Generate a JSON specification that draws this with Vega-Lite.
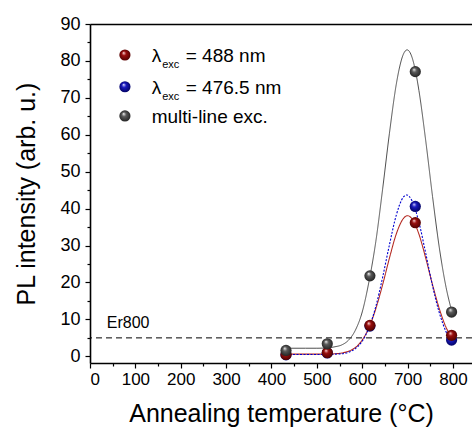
{
  "$schema": "https://vega.github.io/schema/vega-lite/v6.json",
  "width": 382,
  "height": 339,
  "autosize": "none",
  "padding": {"left": 90, "top": 24, "right": 0, "bottom": 68},
  "background": "white",
  "config": {
    "font": "Liberation Sans",
    "view": {"stroke": null},
    "text": {"fill": "#000", "color": "#000"},
    "axis": {"grid": false, "domainColor": "#000", "tickColor": "#000", "labelColor": "#000", "titleColor": "#000", "domainWidth": 1.6, "tickWidth": 1.2, "labelFont": "Liberation Sans", "titleFont": "Liberation Sans", "titleFontWeight": "normal"}
  },
  "datasets": {
    "one": [{}],
    "pts": [
      {"temp": 432, "pl": 0.4, "series": "476.5"},
      {"temp": 523, "pl": 0.9, "series": "476.5"},
      {"temp": 617, "pl": 8.2, "series": "476.5"},
      {"temp": 717, "pl": 40.6, "series": "476.5"},
      {"temp": 797, "pl": 4.4, "series": "476.5"},
      {"temp": 432, "pl": 0.5, "series": "488"},
      {"temp": 523, "pl": 1.0, "series": "488"},
      {"temp": 617, "pl": 8.4, "series": "488"},
      {"temp": 717, "pl": 36.2, "series": "488"},
      {"temp": 797, "pl": 5.7, "series": "488"},
      {"temp": 432, "pl": 1.6, "series": "multi"},
      {"temp": 523, "pl": 3.4, "series": "multi"},
      {"temp": 617, "pl": 21.8, "series": "multi"},
      {"temp": 717, "pl": 77.1, "series": "multi"},
      {"temp": 797, "pl": 12.0, "series": "multi"}
    ],
    "curves": [
      {"temp": 432, "pl": 2.2, "series": "multi"},
      {"temp": 475, "pl": 2.2, "series": "multi"},
      {"temp": 500, "pl": 2.2, "series": "multi"},
      {"temp": 523, "pl": 2.3, "series": "multi"},
      {"temp": 540, "pl": 2.6, "series": "multi"},
      {"temp": 555, "pl": 3.1, "series": "multi"},
      {"temp": 570, "pl": 4.4, "series": "multi"},
      {"temp": 585, "pl": 7.1, "series": "multi"},
      {"temp": 600, "pl": 12.0, "series": "multi"},
      {"temp": 615, "pl": 20.3, "series": "multi"},
      {"temp": 630, "pl": 31.1, "series": "multi"},
      {"temp": 645, "pl": 45.3, "series": "multi"},
      {"temp": 660, "pl": 60.4, "series": "multi"},
      {"temp": 675, "pl": 73.6, "series": "multi"},
      {"temp": 682, "pl": 78.1, "series": "multi"},
      {"temp": 690, "pl": 81.6, "series": "multi"},
      {"temp": 699, "pl": 83.0, "series": "multi"},
      {"temp": 710, "pl": 80.9, "series": "multi"},
      {"temp": 718, "pl": 76.9, "series": "multi"},
      {"temp": 725, "pl": 72.0, "series": "multi"},
      {"temp": 740, "pl": 58.4, "series": "multi"},
      {"temp": 755, "pl": 43.3, "series": "multi"},
      {"temp": 770, "pl": 29.4, "series": "multi"},
      {"temp": 785, "pl": 18.6, "series": "multi"},
      {"temp": 797, "pl": 12.4, "series": "multi"},
      {"temp": 432, "pl": 0.6, "series": "488"},
      {"temp": 475, "pl": 0.6, "series": "488"},
      {"temp": 523, "pl": 0.6, "series": "488"},
      {"temp": 540, "pl": 0.7, "series": "488"},
      {"temp": 555, "pl": 0.9, "series": "488"},
      {"temp": 570, "pl": 1.4, "series": "488"},
      {"temp": 585, "pl": 2.4, "series": "488"},
      {"temp": 600, "pl": 4.4, "series": "488"},
      {"temp": 615, "pl": 7.8, "series": "488"},
      {"temp": 630, "pl": 12.9, "series": "488"},
      {"temp": 645, "pl": 19.4, "series": "488"},
      {"temp": 660, "pl": 26.6, "series": "488"},
      {"temp": 675, "pl": 33.1, "series": "488"},
      {"temp": 690, "pl": 37.2, "series": "488"},
      {"temp": 700, "pl": 38.1, "series": "488"},
      {"temp": 710, "pl": 37.2, "series": "488"},
      {"temp": 725, "pl": 33.1, "series": "488"},
      {"temp": 740, "pl": 26.6, "series": "488"},
      {"temp": 755, "pl": 19.4, "series": "488"},
      {"temp": 770, "pl": 12.9, "series": "488"},
      {"temp": 785, "pl": 7.8, "series": "488"},
      {"temp": 797, "pl": 5.3, "series": "488"},
      {"temp": 432, "pl": 0.5, "series": "476.5"},
      {"temp": 475, "pl": 0.5, "series": "476.5"},
      {"temp": 523, "pl": 0.5, "series": "476.5"},
      {"temp": 540, "pl": 0.6, "series": "476.5"},
      {"temp": 555, "pl": 0.7, "series": "476.5"},
      {"temp": 570, "pl": 1.1, "series": "476.5"},
      {"temp": 585, "pl": 2.1, "series": "476.5"},
      {"temp": 600, "pl": 4.1, "series": "476.5"},
      {"temp": 615, "pl": 7.8, "series": "476.5"},
      {"temp": 630, "pl": 13.5, "series": "476.5"},
      {"temp": 645, "pl": 21.4, "series": "476.5"},
      {"temp": 660, "pl": 30.2, "series": "476.5"},
      {"temp": 675, "pl": 38.2, "series": "476.5"},
      {"temp": 690, "pl": 43.0, "series": "476.5"},
      {"temp": 698, "pl": 43.7, "series": "476.5"},
      {"temp": 710, "pl": 42.1, "series": "476.5"},
      {"temp": 725, "pl": 36.3, "series": "476.5"},
      {"temp": 740, "pl": 27.9, "series": "476.5"},
      {"temp": 755, "pl": 19.1, "series": "476.5"},
      {"temp": 770, "pl": 11.8, "series": "476.5"},
      {"temp": 785, "pl": 6.6, "series": "476.5"},
      {"temp": 797, "pl": 3.9, "series": "476.5"}
    ],
    "er": [{"pl": 5.0, "label": "Er800", "temp": 37, "ly": 7.6}]
  },
  "layer": [
    {
      "data": {"name": "er"},
      "mark": {"type": "rule", "color": "#000", "strokeWidth": 1, "strokeDash": [6, 4]},
      "encoding": {
        "y": {"field": "pl", "type": "quantitative", "scale": {"domain": [-1.8, 90], "nice": false, "zero": false},
          "axis": {"orient": "left", "values": [0,10,20,30,40,50,60,70,80,90], "tickSize": 5, "labelFontSize": 18, "labelPadding": 5, "title": "PL intensity (arb. u.)", "titleFontSize": 25, "titlePadding": 20}}
      }
    },
    {
      "data": {"name": "er"},
      "mark": {"type": "text", "align": "left", "baseline": "alphabetic", "fontSize": 16, "fill": "#000"},
      "encoding": {
        "x": {"field": "temp", "type": "quantitative", "scale": {"domain": [0, 842], "nice": false, "zero": false},
          "axis": {"orient": "bottom", "values": [0,100,200,300,400,500,600,700,800], "tickSize": 5, "labelFontSize": 17, "labelPadding": 3, "title": "Annealing temperature (°C)", "titleFontSize": 25, "titlePadding": 14}},
        "y": {"field": "ly", "type": "quantitative", "scale": {"domain": [-1.8, 90], "nice": false, "zero": false},
          "axis": {"orient": "left", "values": [5,15,25,35,45,55,65,75,85], "tickSize": 3, "labels": false, "domain": false, "title": null}},
        "text": {"field": "label"}
      }
    },
    {
      "data": {"name": "curves"},
      "mark": {"type": "line", "interpolate": "monotone"},
      "encoding": {
        "x": {"field": "temp", "type": "quantitative", "scale": {"domain": [0, 842], "nice": false, "zero": false},
          "axis": {"orient": "bottom", "values": [50,150,250,350,450,550,650,750], "tickSize": 3, "labels": false, "domain": false, "title": null}},
        "y": {"field": "pl", "type": "quantitative", "scale": {"domain": [-1.8, 90], "nice": false, "zero": false}, "axis": null},
        "color": {"field": "series", "type": "nominal", "scale": {"domain": ["multi", "488", "476.5"], "range": ["#4d4d4d", "#b3261e", "#0000d0"]}, "legend": null},
        "strokeDash": {"field": "series", "type": "nominal", "scale": {"domain": ["multi", "488", "476.5"], "range": [[1, 0], [1, 0], [2, 1.5]]}, "legend": null},
        "strokeWidth": {"field": "series", "type": "nominal", "scale": {"domain": ["multi", "488", "476.5"], "range": [1, 1.1, 2]}, "legend": null},
        "order": {"field": "temp", "type": "quantitative"}
      }
    },
    {
      "data": {"name": "pts"},
      "transform": [{"filter": "datum.series === '476.5'"}],
      "mark": {"type": "point", "filled": true, "size": 125, "opacity": 1, "fill": {"gradient": "radial", "x1": 0.38, "y1": 0.3, "r1": 0, "x2": 0.5, "y2": 0.5, "r2": 0.55, "stops": [{"offset": 0, "color": "#e0e0ff"}, {"offset": 0.35, "color": "#1a1ac0"}, {"offset": 1, "color": "#00005a"}]}},
      "encoding": {
        "x": {"field": "temp", "type": "quantitative", "scale": {"domain": [0, 842], "nice": false, "zero": false},
          "axis": {"orient": "top", "ticks": false, "labels": false, "domain": true, "title": null}},
        "y": {"field": "pl", "type": "quantitative", "scale": {"domain": [-1.8, 90], "nice": false, "zero": false}, "axis": null}
      }
    },
    {
      "data": {"name": "pts"},
      "transform": [{"filter": "datum.series === '488'"}],
      "mark": {"type": "point", "filled": true, "size": 125, "opacity": 1, "fill": {"gradient": "radial", "x1": 0.38, "y1": 0.3, "r1": 0, "x2": 0.5, "y2": 0.5, "r2": 0.55, "stops": [{"offset": 0, "color": "#ffe0e0"}, {"offset": 0.35, "color": "#9a0e0e"}, {"offset": 1, "color": "#4a0000"}]}},
      "encoding": {
        "x": {"field": "temp", "type": "quantitative", "scale": {"domain": [0, 842], "nice": false, "zero": false}, "axis": null},
        "y": {"field": "pl", "type": "quantitative", "scale": {"domain": [-1.8, 90], "nice": false, "zero": false}, "axis": null}
      }
    },
    {
      "data": {"name": "pts"},
      "transform": [{"filter": "datum.series === 'multi'"}],
      "mark": {"type": "point", "filled": true, "size": 125, "opacity": 1, "fill": {"gradient": "radial", "x1": 0.38, "y1": 0.3, "r1": 0, "x2": 0.5, "y2": 0.5, "r2": 0.55, "stops": [{"offset": 0, "color": "#f4f4f4"}, {"offset": 0.35, "color": "#5a5a5a"}, {"offset": 1, "color": "#1e1e1e"}]}},
      "encoding": {
        "x": {"field": "temp", "type": "quantitative", "scale": {"domain": [0, 842], "nice": false, "zero": false}, "axis": null},
        "y": {"field": "pl", "type": "quantitative", "scale": {"domain": [-1.8, 90], "nice": false, "zero": false}, "axis": null}
      }
    },
    {
      "data": {"name": "one"},
      "mark": {"type": "point", "filled": true, "size": 125, "opacity": 1, "fill": {"gradient": "radial", "x1": 0.38, "y1": 0.3, "r1": 0, "x2": 0.5, "y2": 0.5, "r2": 0.55, "stops": [{"offset": 0, "color": "#ffe0e0"}, {"offset": 0.35, "color": "#9a0e0e"}, {"offset": 1, "color": "#4a0000"}]}},
      "encoding": {
        "x": {"datum": 77, "type": "quantitative", "scale": {"domain": [0, 842], "nice": false, "zero": false}, "axis": null},
        "y": {"datum": 81.6, "type": "quantitative", "scale": {"domain": [-1.8, 90], "nice": false, "zero": false}, "axis": null}
      }
    },
    {
      "data": {"name": "one"},
      "mark": {"type": "point", "filled": true, "size": 125, "opacity": 1, "fill": {"gradient": "radial", "x1": 0.38, "y1": 0.3, "r1": 0, "x2": 0.5, "y2": 0.5, "r2": 0.55, "stops": [{"offset": 0, "color": "#e0e0ff"}, {"offset": 0.35, "color": "#1a1ac0"}, {"offset": 1, "color": "#00005a"}]}},
      "encoding": {
        "x": {"datum": 77, "type": "quantitative", "scale": {"domain": [0, 842], "nice": false, "zero": false}, "axis": null},
        "y": {"datum": 73.0, "type": "quantitative", "scale": {"domain": [-1.8, 90], "nice": false, "zero": false}, "axis": null}
      }
    },
    {
      "data": {"name": "one"},
      "mark": {"type": "point", "filled": true, "size": 125, "opacity": 1, "fill": {"gradient": "radial", "x1": 0.38, "y1": 0.3, "r1": 0, "x2": 0.5, "y2": 0.5, "r2": 0.55, "stops": [{"offset": 0, "color": "#f4f4f4"}, {"offset": 0.35, "color": "#5a5a5a"}, {"offset": 1, "color": "#1e1e1e"}]}},
      "encoding": {
        "x": {"datum": 77, "type": "quantitative", "scale": {"domain": [0, 842], "nice": false, "zero": false}, "axis": null},
        "y": {"datum": 65.1, "type": "quantitative", "scale": {"domain": [-1.8, 90], "nice": false, "zero": false}, "axis": null}
      }
    },
    {
      "data": {"name": "one"},
      "mark": {"type": "text", "align": "left", "baseline": "alphabetic", "fontSize": 19, "fill": "#000", "dy": 7, "text": "λ"},
      "encoding": {
        "x": {"datum": 136, "type": "quantitative", "scale": {"domain": [0, 842], "nice": false, "zero": false}, "axis": null},
        "y": {"datum": 81.6, "type": "quantitative", "scale": {"domain": [-1.8, 90], "nice": false, "zero": false}, "axis": null}
      }
    },
    {
      "data": {"name": "one"},
      "mark": {"type": "text", "align": "left", "baseline": "alphabetic", "fontSize": 11, "fill": "#000", "dy": 13, "text": "exc"},
      "encoding": {
        "x": {"datum": 159, "type": "quantitative", "scale": {"domain": [0, 842], "nice": false, "zero": false}, "axis": null},
        "y": {"datum": 81.6, "type": "quantitative", "scale": {"domain": [-1.8, 90], "nice": false, "zero": false}, "axis": null}
      }
    },
    {
      "data": {"name": "one"},
      "mark": {"type": "text", "align": "left", "baseline": "alphabetic", "fontSize": 19, "fill": "#000", "dy": 7, "text": "= 488 nm"},
      "encoding": {
        "x": {"datum": 211, "type": "quantitative", "scale": {"domain": [0, 842], "nice": false, "zero": false}, "axis": null},
        "y": {"datum": 81.6, "type": "quantitative", "scale": {"domain": [-1.8, 90], "nice": false, "zero": false}, "axis": null}
      }
    },
    {
      "data": {"name": "one"},
      "mark": {"type": "text", "align": "left", "baseline": "alphabetic", "fontSize": 19, "fill": "#000", "dy": 7, "text": "λ"},
      "encoding": {
        "x": {"datum": 136, "type": "quantitative", "scale": {"domain": [0, 842], "nice": false, "zero": false}, "axis": null},
        "y": {"datum": 73.0, "type": "quantitative", "scale": {"domain": [-1.8, 90], "nice": false, "zero": false}, "axis": null}
      }
    },
    {
      "data": {"name": "one"},
      "mark": {"type": "text", "align": "left", "baseline": "alphabetic", "fontSize": 11, "fill": "#000", "dy": 13, "text": "exc"},
      "encoding": {
        "x": {"datum": 159, "type": "quantitative", "scale": {"domain": [0, 842], "nice": false, "zero": false}, "axis": null},
        "y": {"datum": 73.0, "type": "quantitative", "scale": {"domain": [-1.8, 90], "nice": false, "zero": false}, "axis": null}
      }
    },
    {
      "data": {"name": "one"},
      "mark": {"type": "text", "align": "left", "baseline": "alphabetic", "fontSize": 19, "fill": "#000", "dy": 7, "text": "= 476.5 nm"},
      "encoding": {
        "x": {"datum": 211, "type": "quantitative", "scale": {"domain": [0, 842], "nice": false, "zero": false}, "axis": null},
        "y": {"datum": 73.0, "type": "quantitative", "scale": {"domain": [-1.8, 90], "nice": false, "zero": false}, "axis": null}
      }
    },
    {
      "data": {"name": "one"},
      "mark": {"type": "text", "align": "left", "baseline": "alphabetic", "fontSize": 19, "fill": "#000", "dy": 7, "text": "multi-line exc."},
      "encoding": {
        "x": {"datum": 136, "type": "quantitative", "scale": {"domain": [0, 842], "nice": false, "zero": false}, "axis": null},
        "y": {"datum": 65.1, "type": "quantitative", "scale": {"domain": [-1.8, 90], "nice": false, "zero": false}, "axis": null}
      }
    }
  ],
  "resolve": {"axis": {"x": "independent", "y": "independent"}}
}
